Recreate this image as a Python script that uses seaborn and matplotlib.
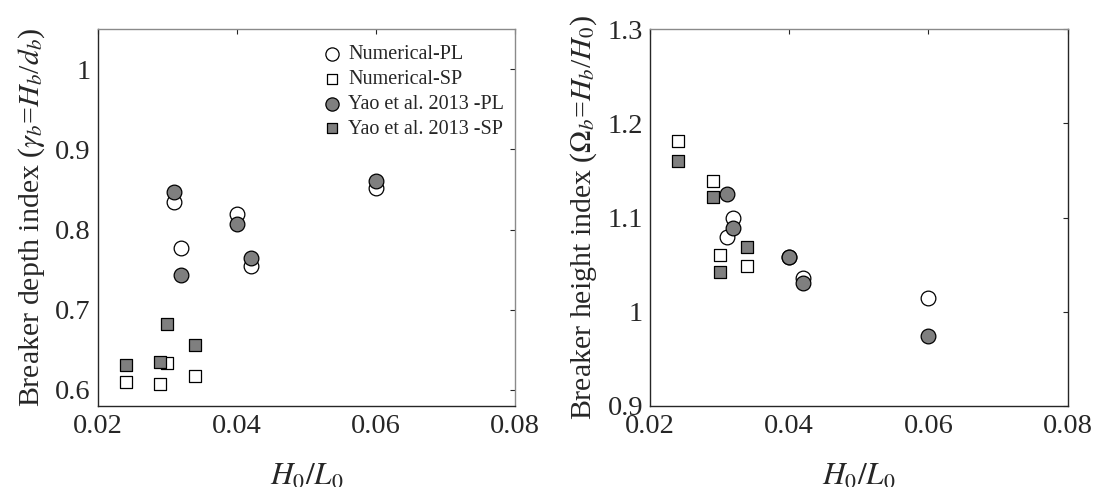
import numpy as np
import pandas as pd
import matplotlib
matplotlib.use("Agg")
import matplotlib.pyplot as plt
import seaborn as sns

# ---- data ----
x_pl = [0.031, 0.032, 0.040, 0.042, 0.060]
x_sp = [0.024, 0.029, 0.030, 0.034]

depth_num_pl = [0.835, 0.777, 0.820, 0.755, 0.852]
depth_yao_pl = [0.847, 0.743, 0.807, 0.764, 0.861]
depth_num_sp = [0.610, 0.607, 0.633, 0.617]
depth_yao_sp = [0.631, 0.635, 0.682, 0.656]

height_num_pl = [1.079, 1.100, 1.058, 1.036, 1.015]
height_yao_pl = [1.125, 1.089, 1.058, 1.030, 0.974]
height_num_sp = [1.181, 1.139, 1.060, 1.049]
height_yao_sp = [1.160, 1.122, 1.042, 1.069]

labels = ["Numerical-PL", "Numerical-SP", "Yao et al. 2013 -PL", "Yao et al. 2013 -SP"]
x_ticks = [0.02, 0.04, 0.06, 0.08]
depth_ticks = [0.6, 0.7, 0.8, 0.9, 1.0]
height_ticks = [0.9, 1.0, 1.1, 1.2, 1.3]

sns.set_style("white")
plt.rcParams["font.family"] = ["Liberation Serif", "DejaVu Serif"]
plt.rcParams["mathtext.fontset"] = "stix"

fig = plt.figure(figsize=(10.94, 4.87), dpi=100)
ax1 = fig.add_axes([0.0893, 0.1669, 0.3814, 0.7729])
ax2 = fig.add_axes([0.5941, 0.1669, 0.3818, 0.7729])

gray = "#7f7f7f"
styles = [
    dict(marker="o", color="white", s=112),
    dict(marker="s", color="white", s=66),
    dict(marker="o", color=gray, s=112),
    dict(marker="s", color=gray, s=66),
]

def draw(ax, series):
    for (xs, ys), lab, st in zip(series, labels, styles):
        df = pd.DataFrame({"x": xs, "y": ys})
        sns.scatterplot(data=df, x="x", y="y", ax=ax, marker=st["marker"],
                        color=st["color"], s=st["s"], edgecolor="black",
                        linewidth=0.9, label=lab, zorder=3)

draw(ax1, [(x_pl, depth_num_pl), (x_sp, depth_num_sp),
           (x_pl, depth_yao_pl), (x_sp, depth_yao_sp)])
draw(ax2, [(x_pl, height_num_pl), (x_sp, height_num_sp),
           (x_pl, height_yao_pl), (x_sp, height_yao_sp)])

dark = "#262626"
light = "#8a8a8a"
for ax, ylim, yt in [(ax1, (0.58, 1.05), depth_ticks), (ax2, (0.9, 1.3), height_ticks)]:
    ax.set_xlim(0.02, 0.08)
    ax.set_ylim(*ylim)
    ax.set_xticks(x_ticks)
    ax.set_xticklabels([f"{v:g}" for v in x_ticks])
    ax.set_yticks(yt)
    ax.set_yticklabels([f"{v:g}" for v in yt])
    ax.tick_params(direction="in", length=3.5, width=0.8, top=True, right=True,
                   labelsize=20.5, colors=dark)
    ax.tick_params(axis="x", pad=6)
    ax.tick_params(axis="y", pad=5)
    for side in ["left", "bottom", "right"]:
        ax.spines[side].set_color(dark)
        ax.spines[side].set_linewidth(1.0)
    ax.spines["top"].set_color(light)
    ax.spines["top"].set_linewidth(1.0)
    ax.set_xlabel(r"$H_{\mathit{0}}/L_{\mathit{0}}$", fontsize=22.5, labelpad=17)

ax1.spines["right"].set_color(light)

ax1.set_ylabel(r"Breaker depth index ($\gamma_b$=$H_b$/$d_b$)", fontsize=21.5, labelpad=6)
ax2.set_ylabel(r"Breaker height index ($\Omega_b$=$H_b$/$H_{\mathit{0}}$)", fontsize=21.5, labelpad=6)

ax2.get_legend().remove()
leg = ax1.legend(loc="upper right", bbox_to_anchor=(1.0, 0.987), frameon=False,
                 fontsize=14.5, handlelength=1.2, handletextpad=0.17,
                 labelspacing=0.28, borderaxespad=0.15, markerscale=0.9)

fig.savefig("out.png", dpi=100)
